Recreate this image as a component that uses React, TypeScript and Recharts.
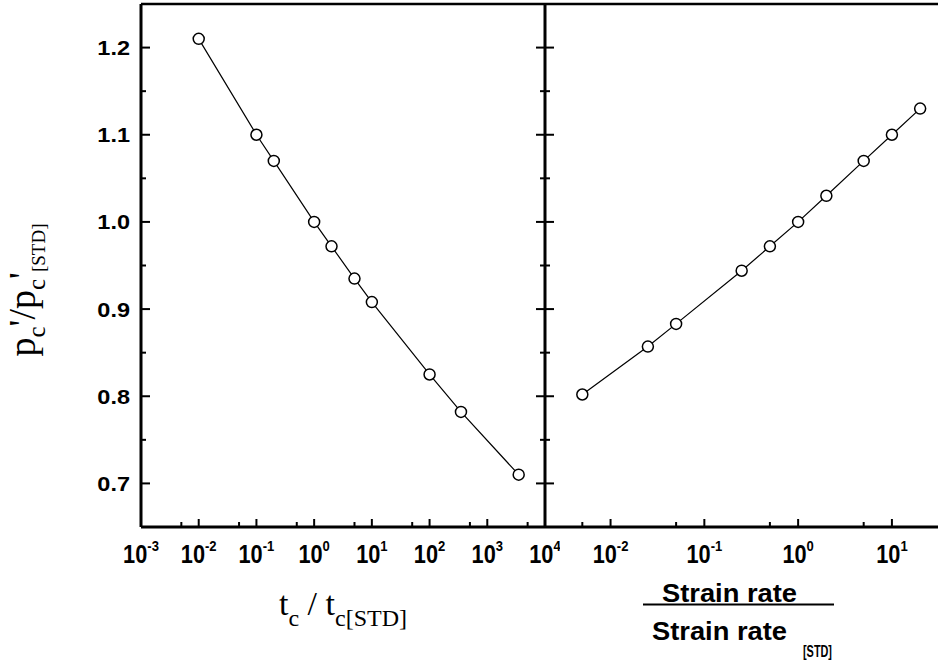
import React from "react";
import { LineChart, Line, XAxis, YAxis, ReferenceLine } from "recharts";

// left panel: consolidation time ratio
const timeRatio = [0.01, 0.1, 0.2, 1, 2, 5, 10, 100, 350, 3500];
const timePc = [1.21, 1.1, 1.07, 1.0, 0.972, 0.935, 0.908, 0.825, 0.782, 0.71];

// right panel: strain rate ratio
const rateRatio = [0.005, 0.025, 0.05, 0.25, 0.5, 1, 2, 5, 10, 20];
const ratePc = [0.802, 0.857, 0.883, 0.944, 0.972, 1.0, 1.03, 1.07, 1.1, 1.13];

const yTicks = [0.7, 0.75, 0.8, 0.85, 0.9, 0.95, 1.0, 1.05, 1.1, 1.15, 1.2];
const timeTicks = [0.001, 0.005, 0.01, 0.05, 0.1, 0.5, 1, 5, 10, 50, 100, 500, 1000, 5000, 10000];
const rateTicks = [0.005, 0.01, 0.05, 0.1, 0.5, 1, 5, 10];

const leftData = timeRatio.map((x, i) => ({ x, y: timePc[i] }));
const rightData = rateRatio.map((x, i) => ({ x, y: ratePc[i] }));

const sans = "'Liberation Sans', Arial, sans-serif";
const serif = "'Liberation Serif', 'Times New Roman', serif";
const yDomain = [0.65, 1.25];
const leftDomain = [0.001, 10000];
const rightDomain = [0.002, 31];

const isDecade = (v: number) => {
  const l = Math.log10(v);
  return Math.abs(l - Math.round(l)) < 1e-6;
};
const isMajorY = (v: number) => Math.abs(v * 10 - Math.round(v * 10)) < 1e-6;

const LogTick = (props: any) => {
  const { x, y, payload } = props;
  const v = payload.value;
  if (!isDecade(v)) {
    return <line x1={x} x2={x} y1={y} y2={y - 5} stroke="#000" strokeWidth={2} />;
  }
  const exp = Math.round(Math.log10(v));
  return (
    <g>
      <line x1={x} x2={x} y1={y} y2={y - 8} stroke="#000" strokeWidth={2} />
      <g transform={`translate(${x},${y + 36}) scale(0.87,1)`}>
        <text x={0} y={0} textAnchor="middle" fontFamily={sans} fontWeight="bold" fontSize={25} fill="#000">
          10
          <tspan dy={-12} fontSize={15}>
            {exp}
          </tspan>
        </text>
      </g>
    </g>
  );
};

const YTick = (props: any) => {
  const { x, y, payload } = props;
  const v = payload.value;
  const major = isMajorY(v);
  return (
    <g>
      <line x1={x} x2={x + (major ? 9 : 5)} y1={y} y2={y} stroke="#000" strokeWidth={2} />
      {major && (
        <g transform={`translate(${x - 11},${y + 7.5}) scale(1.12,1)`}>
          <text x={0} y={0} textAnchor="end" fontFamily={sans} fontWeight="bold" fontSize={21} fill="#000">
            {v.toFixed(1)}
          </text>
        </g>
      )}
    </g>
  );
};

const DividerTick = (props: any) => {
  const { x, y, payload } = props;
  const len = isMajorY(payload.value) ? 9 : 5;
  return <line x1={x - len} x2={x + len} y1={y} y2={y} stroke="#000" strokeWidth={2} />;
};

const YLabel = (props: any) => {
  const vb = props.viewBox || { x: 0, y: 4 };
  const cx = vb.x + 35;
  const cy = vb.y + 286;
  return (
    <text
      x={cx}
      y={cy}
      transform={`rotate(-90, ${cx}, ${cy})`}
      textAnchor="middle"
      fontFamily={serif}
      fontSize={38}
      fill="#000"
    >
      p
      <tspan dy={10} fontSize={25}>c</tspan>
      <tspan dy={-10}>'</tspan>
      <tspan>/p</tspan>
      <tspan dy={10} fontSize={25}>c</tspan>
      <tspan dy={-10}>'</tspan>
      <tspan dy={10} fontSize={19}>[STD]</tspan>
    </text>
  );
};

const TimeLabel = (props: any) => {
  const vb = props.viewBox || { x: 141, y: 527, width: 404 };
  return (
    <text
      x={vb.x + vb.width / 2}
      y={vb.y + 88}
      textAnchor="middle"
      fontFamily={serif}
      fontSize={34}
      fill="#000"
    >
      t<tspan dy={11} fontSize={24}>c</tspan>
      <tspan dy={-11}> / t</tspan>
      <tspan dy={11} fontSize={24}>c[STD]</tspan>
    </text>
  );
};

const RateLabel = (props: any) => {
  const vb = props.viewBox || { x: 15, y: 527 };
  const x0 = vb.x;
  const y0 = vb.y;
  return (
    <g fontFamily={sans} fontWeight="bold" fill="#000">
      <text x={x0 + 117} y={y0 + 75} fontSize={26} textLength={135} lengthAdjust="spacingAndGlyphs">
        Strain rate
      </text>
      <line x1={x0 + 98} x2={x0 + 289} y1={y0 + 77.5} y2={y0 + 77.5} stroke="#000" strokeWidth={2} />
      <text x={x0 + 107} y={y0 + 113} fontSize={26} textLength={135} lengthAdjust="spacingAndGlyphs">
        Strain rate
      </text>
      <text x={x0 + 258} y={y0 + 130} fontSize={17} textLength={29} lengthAdjust="spacingAndGlyphs">
        [STD]
      </text>
    </g>
  );
};

const axisStroke = { stroke: "#000", strokeWidth: 3 };
const dotStyle = { r: 5.5, stroke: "#000", strokeWidth: 1.5, fill: "#fff" };

export default function App() {
  return (
    <div
      style={{
        position: "absolute",
        left: 0,
        top: 0,
        width: 938,
        height: 660,
        background: "#fff",
        overflow: "hidden",
      }}
    >
      <div style={{ position: "absolute", left: 0, top: 0 }}>
        <LineChart width={560} height={660} data={leftData} margin={{ top: 4, right: 0, bottom: 0, left: 0 }}>
          <XAxis
            dataKey="x"
            type="number"
            scale="log"
            domain={leftDomain}
            allowDataOverflow
            ticks={timeTicks}
            interval={0}
            tick={<LogTick />}
            tickSize={0}
            tickMargin={0}
            tickLine={false}
            axisLine={axisStroke}
            height={133}
            label={<TimeLabel />}
          />
          <YAxis
            type="number"
            domain={yDomain}
            allowDataOverflow
            ticks={yTicks}
            interval={0}
            width={141}
            tick={<YTick />}
            tickSize={0}
            tickMargin={0}
            tickLine={false}
            axisLine={axisStroke}
            label={<YLabel />}
          />
          <YAxis
            yAxisId="r"
            orientation="right"
            type="number"
            domain={yDomain}
            allowDataOverflow
            ticks={yTicks}
            interval={0}
            width={15}
            tick={<DividerTick />}
            tickSize={0}
            tickMargin={0}
            tickLine={false}
            axisLine={axisStroke}
          />
          <ReferenceLine y={yDomain[1]} stroke="#000" strokeWidth={2.5} />
          <Line
            dataKey="y"
            stroke="#000"
            strokeWidth={1.2}
            dot={dotStyle}
            isAnimationActive={false}
          />
        </LineChart>
      </div>
      <div style={{ position: "absolute", left: 530, top: 0 }}>
        <LineChart width={408} height={660} data={rightData} margin={{ top: 4, right: 0, bottom: 0, left: 15 }}>
          <XAxis
            dataKey="x"
            type="number"
            scale="log"
            domain={rightDomain}
            allowDataOverflow
            ticks={rateTicks}
            interval={0}
            tick={<LogTick />}
            tickSize={0}
            tickMargin={0}
            tickLine={false}
            axisLine={axisStroke}
            height={133}
            label={<RateLabel />}
          />
          <YAxis type="number" domain={yDomain} allowDataOverflow hide />
          <ReferenceLine y={yDomain[1]} stroke="#000" strokeWidth={2.5} />
          <Line
            dataKey="y"
            stroke="#000"
            strokeWidth={1.2}
            dot={dotStyle}
            isAnimationActive={false}
          />
        </LineChart>
      </div>
    </div>
  );
}
